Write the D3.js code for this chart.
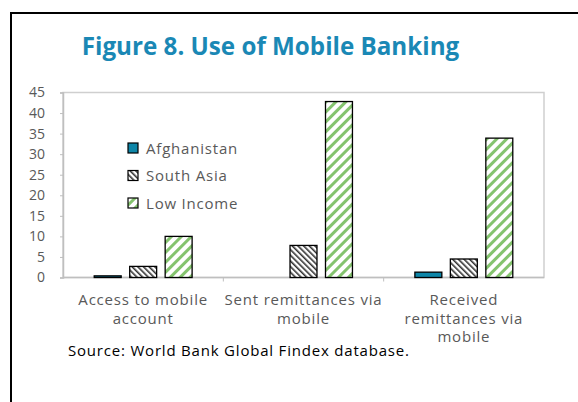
<!DOCTYPE html>
<html>
<head>
<meta charset="utf-8">
<script src="https://cdn.jsdelivr.net/npm/d3@7"></script>
<style>
  html, body { margin: 0; padding: 0; background: #fff; }
  svg { display: block; }
</style>
</head>
<body>
<svg id="chart" width="578" height="402"></svg>
<script>
// Share of adults (%) using mobile banking services
const categories = [
  ["Access to mobile", "account"],
  ["Sent remittances via", "mobile"],
  ["Received", "remittances via", "mobile"]
];
const seriesNames = ["Afghanistan", "South Asia", "Low Income"];
const afghanistan = [0.4, 0, 1.3];
const southAsia = [2.7, 7.8, 4.5];
const lowIncome = [10.0, 42.8, 33.9];
const yTicks = [0, 5, 10, 15, 20, 25, 30, 35, 40, 45];

const series = [afghanistan, southAsia, lowIncome];
const fills = ["#0e86a8", "url(#hatchSA)", "url(#hatchLI)"];

const svg = d3.select("#chart");
const font = "'Open Sans', 'Noto Sans', sans-serif";
const grey = "#595959";
const labelSize = 15;
const labelSpacing = 0.8;

// hatch patterns
const defs = svg.append("defs");
const pSA = defs.append("pattern").attr("id", "hatchSA")
  .attr("patternUnits", "userSpaceOnUse").attr("width", 4).attr("height", 4)
  .attr("patternTransform", "rotate(-45)");
pSA.append("rect").attr("width", 4).attr("height", 4).attr("fill", "#fff");
pSA.append("rect").attr("x", 0).attr("width", 1.6).attr("height", 4).attr("fill", "#333");

const pLI = defs.append("pattern").attr("id", "hatchLI")
  .attr("patternUnits", "userSpaceOnUse").attr("width", 7).attr("height", 7)
  .attr("patternTransform", "rotate(45)");
pLI.append("rect").attr("width", 7).attr("height", 7).attr("fill", "#fff");
pLI.append("rect").attr("x", 0).attr("width", 3).attr("height", 7).attr("fill", "#84c36e");

// outer frame
svg.append("rect")
  .attr("x", 11).attr("y", 13).attr("width", 600).attr("height", 420)
  .attr("fill", "none").attr("stroke", "#000").attr("stroke-width", 2);

// title
svg.append("text")
  .attr("x", 270.5).attr("y", 55)
  .attr("text-anchor", "middle")
  .attr("font-family", font).attr("font-weight", 700)
  .attr("font-size", 24.2).attr("fill", "#1a88b5")
  .text("Figure 8. Use of Mobile Banking");

const plot = { left: 63, top: 92.5, right: 544, bottom: 277.5 };

const x0 = d3.scaleBand().domain(d3.range(categories.length))
  .range([plot.left, plot.right]).paddingInner(0).paddingOuter(0);
const x1 = d3.scaleBand().domain(d3.range(series.length))
  .range([0, x0.bandwidth()]).paddingInner(0.24).paddingOuter(0.88);
const y = d3.scaleLinear().domain([0, 45]).range([plot.bottom, plot.top]);

// plot area border
svg.append("rect")
  .attr("x", plot.left).attr("y", plot.top)
  .attr("width", plot.right - plot.left).attr("height", plot.bottom - plot.top)
  .attr("fill", "none").attr("stroke", "#cfcfcf").attr("stroke-width", 1.5);

// y axis
const yAxis = svg.append("g")
  .attr("transform", `translate(${plot.left},0)`)
  .call(d3.axisLeft(y).tickValues(yTicks).tickSize(3).tickPadding(15));
yAxis.select(".domain").attr("stroke", "#bfbfbf").attr("stroke-width", 1.5);
yAxis.selectAll(".tick line").attr("stroke", "#bfbfbf");
yAxis.selectAll(".tick text")
  .attr("font-family", font).attr("font-size", 14).attr("fill", grey);

// x axis (category boundary ticks)
const xAxis = svg.append("g")
  .attr("transform", `translate(0,${plot.bottom})`);
xAxis.append("line")
  .attr("x1", plot.left).attr("x2", plot.right)
  .attr("stroke", "#bfbfbf").attr("stroke-width", 1.5);
xAxis.selectAll("line.bt").data(d3.range(1, categories.length))
  .join("line").attr("class", "bt")
  .attr("x1", d => x0(d)).attr("x2", d => x0(d))
  .attr("y1", 0).attr("y2", 4)
  .attr("stroke", "#bfbfbf");

const labels = xAxis.selectAll("text.cat").data(categories)
  .join("text").attr("class", "cat")
  .attr("text-anchor", "middle")
  .attr("font-family", font).attr("font-size", labelSize)
  .attr("letter-spacing", labelSpacing).attr("fill", grey)
  .attr("transform", (d, i) => `translate(${x0(i) + x0.bandwidth() / 2},27.5)`);
labels.selectAll("tspan").data(d => d).join("tspan")
  .attr("x", 0).attr("dy", (d, i) => i === 0 ? 0 : 18.5)
  .text(d => d);

// bars
const groups = svg.append("g").selectAll("g")
  .data(series).join("g")
  .attr("fill", (d, i) => fills[i]);
groups.each(function(vals, si) {
  d3.select(this).selectAll("rect")
    .data(vals.map((v, ci) => ({ v, ci })).filter(d => d.v > 0))
    .join("rect")
    .attr("x", d => x0(d.ci) + x1(si))
    .attr("width", x1.bandwidth())
    .attr("y", d => y(d.v))
    .attr("height", d => y(0) - y(d.v))
    .attr("stroke", "#000").attr("stroke-width", 1.3);
});

// legend
const legend = svg.append("g").attr("transform", "translate(128,148)");
const li = legend.selectAll("g").data(seriesNames).join("g")
  .attr("transform", (d, i) => `translate(0,${i * 27.5})`);
li.append("rect")
  .attr("x", 0).attr("y", -5).attr("width", 10).attr("height", 10)
  .attr("fill", (d, i) => fills[i]).attr("stroke", "#000").attr("stroke-width", 1.2);
li.append("text")
  .attr("x", 18).attr("y", 5.5)
  .attr("font-family", font).attr("font-size", labelSize)
  .attr("letter-spacing", labelSpacing).attr("fill", grey)
  .text(d => d);

// source note
svg.append("text")
  .attr("x", 68).attr("y", 356)
  .attr("font-family", font).attr("font-size", labelSize)
  .attr("letter-spacing", labelSpacing).attr("fill", "#000")
  .text("Source: World Bank Global Findex database.");
</script>
</body>
</html>
